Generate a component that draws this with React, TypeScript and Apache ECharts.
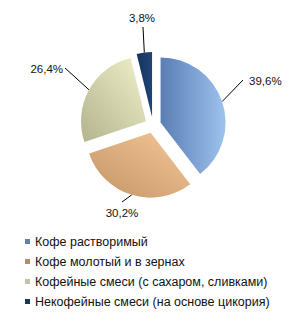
import React, { useEffect, useRef } from "react";
import * as echarts from "echarts";

const categories = [
  "Кофе растворимый",
  "Кофе молотый и в зернах",
  "Кофейные смеси (с сахаром, сливками)",
  "Некофейные смеси (на основе цикория)",
];
const values = [39.6, 30.2, 26.4, 3.8];
const gradients = [
  ["#5a7db3", "#9dc3ef", 0, 0, 1, 0],
  ["#c39466", "#f6c898", 0, 1, 1, 0],
  ["#b3b38c", "#f0f0cc", 0, 1, 1, 0],
  ["#15345c", "#1f4475", 0, 0, 1, 0],
] as const;
const legendColors = ["#5f80b0", "#b58c68", "#c2c2a4", "#17365d"];
// label placement in chart pixels: [x, y, horizontal anchor, line end x, line end y]
const labelPlace: [number, number, string, number, number][] = [
  [241, 73, "left", 235, 72],
  [114, 205, "center", 114, 194],
  [55, 61, "right", 57, 60],
  [134, 9.5, "center", 135, 19],
];
const SEL_OFFSET = 8;

export default function App() {
  const ref = useRef<HTMLDivElement>(null);
  useEffect(() => {
    if (!ref.current) return;
    const chart = echarts.init(ref.current, undefined, { renderer: "svg" });
    const total = values.reduce((a, b) => a + b, 0);
    const offsets: [number, number][] = [];
    let acc = 0;
    values.forEach((v) => {
      const mid = ((acc + v / 2) / total) * Math.PI * 2;
      offsets.push([Math.sin(mid) * SEL_OFFSET, -Math.cos(mid) * SEL_OFFSET]);
      acc += v;
    });
    const data = categories.map((name, i) => {
      const g = gradients[i];
      return {
        name,
        value: values[i],
        selected: true,
        itemStyle: {
          color: new echarts.graphic.LinearGradient(g[2], g[3], g[4], g[5], [
            { offset: 0, color: g[0] },
            { offset: 1, color: g[1] },
          ]),
        },
      };
    });
    chart.setOption({
      animation: false,
      backgroundColor: "#ffffff",
      legend: {
        orient: "vertical",
        left: 12,
        top: 222,
        height: 90,
        itemWidth: 5,
        itemHeight: 5,
        itemGap: 7,
        icon: "rect",
        data: categories.map((name, i) => ({
          name,
          itemStyle: { color: legendColors[i] },
        })),
        textStyle: {
          fontFamily: "Liberation Sans, Arial, sans-serif",
          fontSize: 12.5,
          color: "#111111",
        },
      },
      series: [
        {
          type: "pie",
          center: [145, 117],
          radius: 65,
          startAngle: 90,
          selectedMode: "multiple",
          selectedOffset: SEL_OFFSET,
          data,
          label: {
            position: "outside",
            formatter: (p: any) => String(p.value).replace(".", ",") + "%",
            fontFamily: "Liberation Sans, Arial, sans-serif",
            fontSize: 11.5,
            color: "#111111",
          },
          labelLine: {
            show: true,
            length: 18,
            length2: 4,
            lineStyle: { color: "#000000", width: 1 },
          },
          labelLayout: (params: any) => {
            const i = params.dataIndex;
            const a = labelPlace[i];
            const r = params.labelRect;
            const [ox, oy] = offsets[i];
            let tx = a[0];
            if (a[2] === "right") tx = a[0] - r.width;
            if (a[2] === "center") tx = a[0] - r.width / 2;
            const ty = a[1] - r.height / 2;
            const res: any = {
              dx: tx - r.x - ox,
              dy: ty - r.y - oy,
            };
            if (params.labelLinePoints) {
              const p0 = params.labelLinePoints[0];
              const end = [a[3] - ox, a[4] - oy];
              res.labelLinePoints = [p0, end, end];
            }
            return res;
          },
          emphasis: { disabled: true },
        },
      ],
    });
    return () => chart.dispose();
  }, []);
  return <div ref={ref} style={{ width: 296, height: 306 }} />;
}
